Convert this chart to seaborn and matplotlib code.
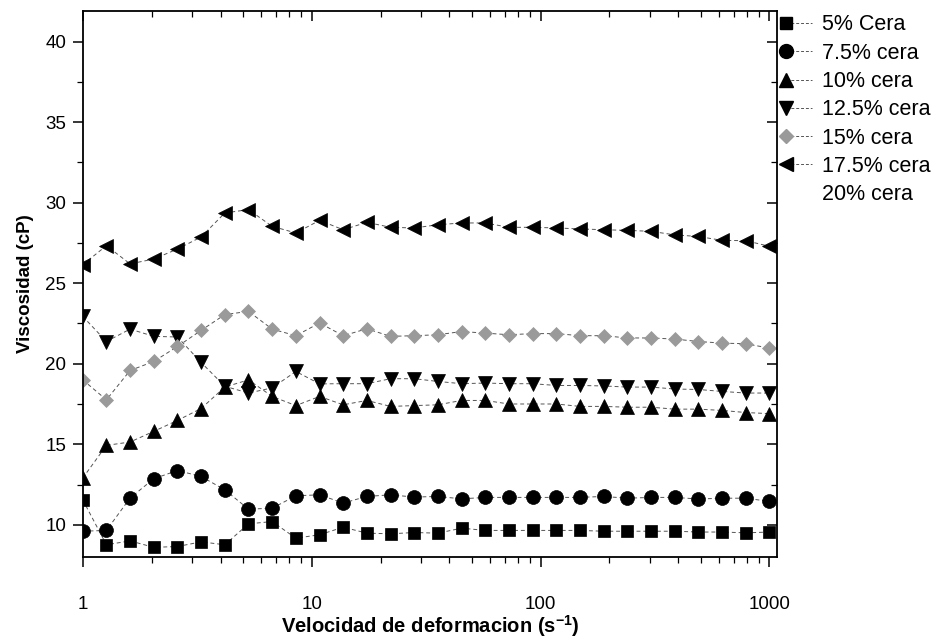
import numpy as np
import pandas as pd
import seaborn as sns
import matplotlib
matplotlib.use("Agg")
import matplotlib.pyplot as plt
from matplotlib.lines import Line2D
from matplotlib.legend_handler import HandlerLine2D
from matplotlib.ticker import FixedLocator, NullFormatter

# ---------------- data ----------------
shear_rate = [1.00, 1.269, 1.610, 2.043, 2.593, 3.290, 4.175, 5.298, 6.723, 8.532,
              10.83, 13.74, 17.43, 22.12, 28.07, 35.62, 45.20, 57.36, 72.79, 92.37,
              117.2, 148.7, 188.7, 239.5, 303.9, 385.7, 489.4, 621.0, 788.0, 1000.0]

cera_5 = [11.55, 8.76, 9.00, 8.60, 8.65, 8.94, 8.76, 10.06, 10.20, 9.17,
          9.38, 9.85, 9.48, 9.44, 9.52, 9.48, 9.79, 9.65, 9.65, 9.65,
          9.65, 9.65, 9.60, 9.60, 9.60, 9.60, 9.55, 9.55, 9.50, 9.55]
cera_7_5 = [9.60, 9.65, 11.66, 12.86, 13.37, 13.00, 12.17, 10.97, 11.03, 11.80,
            11.86, 11.35, 11.76, 11.86, 11.72, 11.76, 11.61, 11.70, 11.70, 11.70,
            11.70, 11.70, 11.76, 11.65, 11.70, 11.70, 11.60, 11.65, 11.65, 11.45]
cera_10 = [12.90, 14.93, 15.14, 15.80, 16.48, 17.22, 18.55, 19.00, 17.97, 17.40,
           17.97, 17.45, 17.72, 17.35, 17.40, 17.45, 17.72, 17.72, 17.50, 17.50,
           17.50, 17.35, 17.35, 17.30, 17.30, 17.18, 17.18, 17.10, 16.97, 16.90]
cera_12_5 = [22.94, 21.38, 22.15, 21.70, 21.66, 20.08, 18.60, 18.18, 18.50, 19.52,
             18.75, 18.76, 18.76, 19.07, 19.07, 18.90, 18.76, 18.80, 18.76, 18.76,
             18.65, 18.65, 18.62, 18.55, 18.55, 18.43, 18.40, 18.28, 18.18, 18.18]
cera_15 = [19.00, 17.76, 19.58, 20.14, 21.07, 22.07, 23.05, 23.25, 22.15, 21.74,
           22.53, 21.74, 22.17, 21.70, 21.74, 21.80, 22.00, 21.90, 21.80, 21.87,
           21.87, 21.74, 21.74, 21.60, 21.60, 21.53, 21.38, 21.28, 21.24, 20.97]
cera_17_5 = [26.15, 27.33, 26.20, 26.50, 27.12, 27.87, 29.36, 29.57, 28.53, 28.12,
             28.90, 28.32, 28.78, 28.47, 28.43, 28.63, 28.74, 28.74, 28.47, 28.47,
             28.43, 28.37, 28.32, 28.28, 28.22, 28.00, 27.90, 27.66, 27.64, 27.29]

series_labels = ["5% Cera", "7.5% cera", "10% cera", "12.5% cera",
                 "15% cera", "17.5% cera", "20% cera"]
series_values = [cera_5, cera_7_5, cera_10, cera_12_5, cera_15, cera_17_5, None]

x_tick_values = [1, 10, 100, 1000]
x_tick_labels = ["1", "10", "100", "1000"]
y_tick_values = [10, 15, 20, 25, 30, 35, 40]
y_tick_labels = ["10", "15", "20", "25", "30", "35", "40"]

# ---------------- styles ----------------
markers = ["s", "o", "^", "v", "D", "<", None]
msizes = [9, 10, 10.5, 10.5, 7.5, 10.5, 0]
mcolors = ["black", "black", "black", "black", "#9a9a9a", "black", "black"]

sns.set_theme(style="white")
plt.rcParams["font.family"] = ["Liberation Sans", "DejaVu Sans"]

fig = plt.figure(figsize=(9.39, 6.44), dpi=100)
ax = fig.add_axes([0.0881, 0.1351, 0.8275 - 0.0881, 0.9829 - 0.1351])

handles = []
for lab, vals, mk, ms, mc in zip(series_labels, series_values, markers, msizes, mcolors):
    if vals is not None:
        df = pd.DataFrame({"x": shear_rate, "y": vals})
        sns.lineplot(data=df, x="x", y="y", ax=ax, color="#555555", linewidth=0.7,
                     linestyle=(0, (4, 3)), marker=mk, markersize=ms,
                     markerfacecolor=mc, markeredgecolor=mc, markeredgewidth=0.5,
                     clip_on=True, legend=False)
        h = Line2D([], [], color="#555555", linewidth=0.7, linestyle=(0, (3, 2)),
                   marker=mk, markersize=ms, markerfacecolor=mc,
                   markeredgecolor=mc)
    else:
        h = Line2D([], [], linestyle="none", marker=None)
    handles.append(h)

ax.set_xscale("log")
ax.set_xlim(1.0, 1079)
ax.set_ylim(8.0, 41.9)

minor_x = [m * d for d in (1, 10, 100) for m in range(2, 10)]
minor_y = [7.5 + 5 * i for i in range(8)]

ax.set_xticks(x_tick_values)
ax.set_xticklabels(x_tick_labels)
ax.xaxis.set_minor_locator(FixedLocator(minor_x))
ax.xaxis.set_minor_formatter(NullFormatter())
ax.set_yticks(y_tick_values)
ax.set_yticklabels(y_tick_labels)
ax.yaxis.set_minor_locator(FixedLocator(minor_y))

for s in ax.spines.values():
    s.set_color("black")
    s.set_linewidth(1.3)

ax.tick_params(axis="both", which="major", direction="out", length=7, width=1.1,
               color="black", labelsize=13.5, labelcolor="black", pad=5,
               bottom=True, left=True)
ax.tick_params(axis="both", which="minor", direction="out", length=4, width=0.9,
               color="black", bottom=True, left=True)
ax.tick_params(axis="x", which="major", pad=21)

# mirrored inward ticks on top and right
axt = ax.twiny()
axt.set_xscale("log")
axt.set_xlim(ax.get_xlim())
axt.set_xticks(x_tick_values)
axt.xaxis.set_minor_locator(FixedLocator(minor_x))
axt.tick_params(axis="x", which="major", direction="in", length=7, width=1.1,
                color="black", labeltop=False, top=True)
axt.tick_params(axis="x", which="minor", direction="in", length=4, width=0.9,
                color="black", top=True)
axt.xaxis.set_minor_formatter(NullFormatter())
axr = ax.twinx()
axr.set_ylim(ax.get_ylim())
axr.set_yticks(y_tick_values)
axr.yaxis.set_minor_locator(FixedLocator(minor_y))
axr.tick_params(axis="y", which="major", direction="in", length=7, width=1.1,
                color="black", labelright=False, right=True)
axr.tick_params(axis="y", which="minor", direction="in", length=4, width=0.9,
                color="black", right=True)
for a in (axt, axr):
    for s in a.spines.values():
        s.set_visible(False)

ax.set_xlabel("Velocidad de deformacion (s$^{\\mathregular{-1}}$)", fontsize=14.5,
              fontweight="bold", labelpad=0, color="black")
ax.set_ylabel("Viscosidad (cP)", fontsize=13.5, fontweight="bold",
              labelpad=8, color="black")


class LeftMarkerHandler(HandlerLine2D):
    def create_artists(self, legend, orig_handle, xdescent, ydescent, width,
                       height, fontsize, trans):
        arts = super().create_artists(legend, orig_handle, xdescent, ydescent,
                                      width, height, fontsize, trans)
        for a in arts:
            if isinstance(a, Line2D):
                a.set_markevery([0])
        return arts


leg = fig.legend(handles=handles, labels=series_labels, loc="upper left",
                 bbox_to_anchor=(0.828, 0.991), frameon=False, fontsize=15.5,
                 numpoints=1, handlelength=1.2, handletextpad=0.45,
                 labelspacing=0.34, borderaxespad=0.0,
                 handler_map={Line2D: LeftMarkerHandler()})
for t in leg.get_texts():
    t.set_color("black")

fig.savefig("out.png", dpi=100, facecolor="white")
